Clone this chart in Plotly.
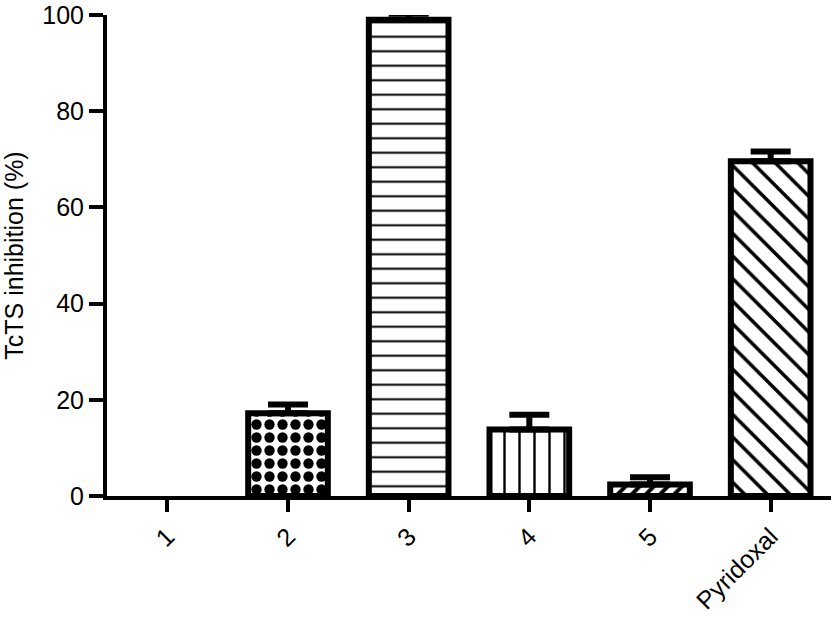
import plotly.graph_objects as go

categories = ["1", "2", "3", "4", "5", "Pyridoxal"]
inhibition = [0, 17.2, 99.0, 13.8, 2.4, 69.6]
sem = [None, 1.8, 1.3, 3.1, 1.5, 2.0]

pattern_shapes = ["", ".", "-", "|", "/", "\\"]
pattern_sizes = [8, 13, 14.5, 15, 10, 16]
pattern_solidity = [0.1, 0.5, 0.14, 0.16, 0.4, 0.22]

fig = go.Figure()
for cat, val, err, shp, psz, sol in zip(categories, inhibition, sem,
                                         pattern_shapes, pattern_sizes, pattern_solidity):
    err_spec = dict(visible=False)
    if err is not None:
        err_spec = dict(type="data", array=[err], symmetric=False, arrayminus=[0],
                        color="black", thickness=6, width=20, visible=True)
    fig.add_trace(go.Bar(
        x=[cat],
        y=[val],
        width=0.66,
        marker=dict(
            color="white",
            line=dict(color="black", width=6 if val != 0 else 0),
            pattern=dict(shape=shp, size=psz, solidity=sol,
                         fgcolor="black", bgcolor="white", fillmode="replace"),
        ),
        error_y=err_spec,
        cliponaxis=False,
        showlegend=False,
        hoverinfo="skip",
    ))

fig.update_layout(
    width=833,
    height=624,
    barmode="overlay",
    margin=dict(l=107, r=2, t=15, b=128),
    plot_bgcolor="white",
    paper_bgcolor="white",
    showlegend=False,
    font=dict(family="Liberation Sans, Arial, sans-serif", size=25, color="black"),
    xaxis=dict(
        range=[-0.5, 5.5],
        categoryorder="array",
        categoryarray=categories,
        automargin=False,
        showline=True,
        linecolor="black",
        linewidth=4,
        ticks="outside",
        ticklen=12,
        tickwidth=4,
        tickcolor="black",
        tickangle=-45,
        showgrid=False,
        zeroline=False,
        ticklabeloverflow="allow",
        tickfont=dict(size=25),
    ),
    yaxis=dict(
        range=[0, 100],
        automargin=False,
        tickvals=[0, 20, 40, 60, 80, 100],
        showline=True,
        linecolor="black",
        linewidth=4,
        ticks="outside",
        ticklen=14,
        tickwidth=4,
        tickcolor="black",
        showgrid=False,
        zeroline=False,
        ticklabeloverflow="allow",
        tickfont=dict(size=25),
        title=dict(text="TcTS inhibition (%)", font=dict(size=25), standoff=17),
    ),
)

fig.write_html(
    "out.html",
    config={"displayModeBar": False},
    post_script="document.body.style.margin='0';document.body.style.overflow='hidden';",
)
